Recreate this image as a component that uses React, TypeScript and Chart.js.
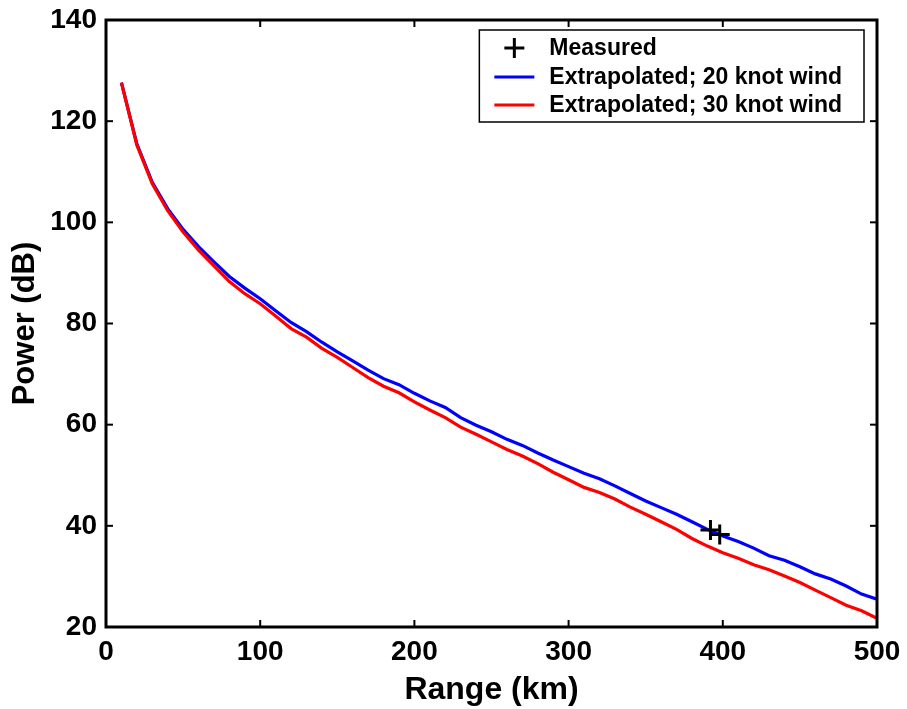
import React, { useEffect, useRef } from "react";
import { Chart, registerables } from "chart.js";

Chart.register(...registerables);

const rangeKm = [
  10, 20, 30, 40, 50, 60, 70, 80, 90, 100,
  110, 120, 130, 140, 150, 160, 170, 180, 190, 200,
  210, 220, 230, 240, 250, 260, 270, 280, 290, 300,
  310, 320, 330, 340, 350, 360, 370, 380, 390, 400,
  410, 420, 430, 440, 450, 460, 470, 480, 490, 500,
];

const power20Knot = [
  127.6, 115.5, 107.9, 102.7, 98.6, 95.2, 92.2, 89.3, 87.0, 84.9,
  82.5, 80.2, 78.4, 76.3, 74.4, 72.6, 70.8, 69.1, 67.9, 66.2,
  64.7, 63.4, 61.4, 59.9, 58.6, 57.1, 55.9, 54.4, 53.0, 51.7,
  50.4, 49.3, 47.9, 46.4, 44.9, 43.6, 42.3, 40.8, 39.3, 38.0,
  36.9, 35.6, 34.1, 33.2, 31.9, 30.5, 29.5, 28.1, 26.5, 25.5,
];

const power30Knot = [
  127.6, 115.3, 107.6, 102.3, 98.1, 94.5, 91.4, 88.3, 85.9, 83.9,
  81.5, 79.0, 77.3, 75.1, 73.3, 71.3, 69.3, 67.6, 66.3, 64.5,
  62.9, 61.4, 59.5, 58.1, 56.6, 55.1, 53.8, 52.3, 50.6, 49.1,
  47.6, 46.6, 45.3, 43.7, 42.3, 40.8, 39.3, 37.5, 36.0, 34.7,
  33.6, 32.3, 31.3, 30.1, 28.8, 27.3, 25.8, 24.3, 23.2, 21.7,
];

const measuredRange = [392, 398];
const measuredPower = [39.2, 38.3];

const xTickValues = [0, 100, 200, 300, 400, 500];
const yTickValues = [20, 40, 60, 80, 100, 120, 140];

const seriesLabels = [
  "Measured",
  "Extrapolated; 20 knot wind",
  "Extrapolated; 30 knot wind",
];
const seriesColors = ["#000000", "#0000ff", "#ff0000"];

const FONT = '"Liberation Sans", Arial, Helvetica, sans-serif';

const framePlugin = {
  id: "matlabFrame",
  afterDatasetsDraw(chart: any) {
    const { ctx, chartArea: a, scales } = chart;
    const line = (x1: number, y1: number, x2: number, y2: number) => {
      ctx.beginPath();
      ctx.moveTo(x1, y1);
      ctx.lineTo(x2, y2);
      ctx.stroke();
    };
    ctx.save();
    ctx.strokeStyle = "#000";
    ctx.lineWidth = 2;
    const L = 7;
    xTickValues.forEach((v) => {
      const px = scales.x.getPixelForValue(v);
      line(px, a.bottom, px, a.bottom - L);
      line(px, a.top, px, a.top + L);
    });
    yTickValues.forEach((v) => {
      const py = scales.y.getPixelForValue(v);
      line(a.left, py, a.left + L, py);
      line(a.right, py, a.right - L, py);
    });
    ctx.lineWidth = 3;
    ctx.strokeRect(a.left, a.top, a.right - a.left, a.bottom - a.top);

    // Legend
    ctx.font = `bold 23px ${FONT}`;
    const textOffset = 70;
    let maxW = 0;
    seriesLabels.forEach((s) => {
      maxW = Math.max(maxW, ctx.measureText(s).width);
    });
    const boxW = textOffset + maxW + 22;
    const boxH = 92;
    const bx = a.right - 13 - boxW;
    const by = a.top + 10;
    ctx.fillStyle = "#fff";
    ctx.fillRect(bx, by, boxW, boxH);
    ctx.lineWidth = 1.5;
    ctx.strokeStyle = "#000";
    ctx.strokeRect(bx, by, boxW, boxH);
    const rows = [18, 47, 75];
    ctx.textBaseline = "middle";
    ctx.textAlign = "left";
    seriesLabels.forEach((s, i) => {
      const ry = by + rows[i];
      ctx.strokeStyle = seriesColors[i];
      ctx.lineWidth = 3;
      if (i === 0) {
        line(bx + 25, ry, bx + 45, ry);
        line(bx + 35, ry - 10, bx + 35, ry + 10);
      } else {
        line(bx + 15, ry, bx + 55, ry);
      }
      ctx.fillStyle = "#000";
      ctx.fillText(s, bx + textOffset, ry + 1);
    });
    ctx.restore();
  },
};

export default function App() {
  const canvasRef = useRef<HTMLCanvasElement | null>(null);

  useEffect(() => {
    if (!canvasRef.current) return;
    const chart = new Chart(canvasRef.current, {
      type: "line",
      data: {
        datasets: [
          {
            label: seriesLabels[0],
            data: measuredRange.map((x, i) => ({ x, y: measuredPower[i] })),
            showLine: false,
            pointStyle: "cross",
            pointRadius: 10,
            pointBorderWidth: 3,
            borderColor: seriesColors[0],
            backgroundColor: seriesColors[0],
            order: 0,
          },
          {
            label: seriesLabels[1],
            data: rangeKm.map((x, i) => ({ x, y: power20Knot[i] })),
            borderColor: seriesColors[1],
            backgroundColor: seriesColors[1],
            borderWidth: 3.2,
            pointRadius: 0,
            tension: 0,
            order: 2,
          },
          {
            label: seriesLabels[2],
            data: rangeKm.map((x, i) => ({ x, y: power30Knot[i] })),
            borderColor: seriesColors[2],
            backgroundColor: seriesColors[2],
            borderWidth: 3.2,
            pointRadius: 0,
            tension: 0,
            order: 1,
          },
        ],
      },
      options: {
        responsive: false,
        animation: false,
        layout: { padding: { top: 20, right: 30, left: 0, bottom: 0 } },
        plugins: {
          legend: { display: false },
          tooltip: { enabled: false },
        },
        scales: {
          x: {
            type: "linear",
            min: 0,
            max: 500,
            afterBuildTicks: (scale: any) => {
              scale.ticks = xTickValues.map((value) => ({ value }));
            },
            afterFit: (scale: any) => {
              scale.height = 82;
              scale.paddingLeft = 0;
              scale.paddingRight = 0;
            },
            grid: { display: false, drawTicks: false },
            border: { display: false },
            ticks: {
              color: "#000",
              padding: 8,
              maxRotation: 0,
              font: { family: FONT, size: 28, weight: "bold" },
            },
            title: {
              display: true,
              text: "Range (km)",
              color: "#000",
              padding: { top: 0, bottom: 0 },
              font: { family: FONT, size: 32, weight: "bold" },
            },
          },
          y: {
            type: "linear",
            min: 20,
            max: 140,
            afterBuildTicks: (scale: any) => {
              scale.ticks = yTickValues.map((value) => ({ value }));
            },
            afterFit: (scale: any) => {
              scale.width = 106;
              scale.paddingTop = 0;
              scale.paddingBottom = 0;
            },
            grid: { display: false, drawTicks: false },
            border: { display: false },
            ticks: {
              color: "#000",
              padding: 9,
              font: { family: FONT, size: 28, weight: "bold" },
            },
            title: {
              display: true,
              text: "Power (dB)",
              color: "#000",
              padding: { top: 7, bottom: 0 },
              font: { family: FONT, size: 31, weight: "bold" },
            },
          },
        },
      },
      plugins: [framePlugin],
    });
    return () => chart.destroy();
  }, []);

  return (
    <div
      style={{
        position: "absolute",
        left: 0,
        top: 0,
        width: 907,
        height: 709,
        background: "#fff",
      }}
    >
      <canvas ref={canvasRef} width={907} height={709} />
    </div>
  );
}
